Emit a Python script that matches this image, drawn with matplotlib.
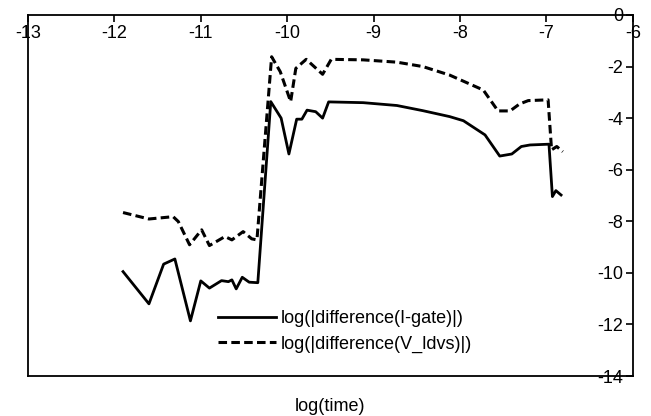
import matplotlib
matplotlib.use("Agg")
import matplotlib.pyplot as plt

plt.rcParams['font.family'] = ['Liberation Sans', 'DejaVu Sans']
plt.rcParams['axes.unicode_minus'] = False

# log(|difference(I-gate)|)
gate_x = [-11.90, -11.60, -11.43, -11.30, -11.12, -11.00, -10.90, -10.76, -10.68, -10.64,
          -10.59, -10.52, -10.44, -10.34, -10.19, -10.07, -9.98, -9.89, -9.83, -9.77,
          -9.67, -9.59, -9.52, -9.12, -8.73, -8.43, -8.12, -7.96, -7.71, -7.54,
          -7.40, -7.29, -7.19, -6.97, -6.93, -6.89, -6.83]
gate_y = [-9.95, -11.20, -9.66, -9.46, -11.86, -10.31, -10.59, -10.30, -10.34, -10.27,
          -10.62, -10.17, -10.36, -10.38, -3.36, -4.00, -5.39, -4.04, -4.04, -3.69,
          -3.75, -4.00, -3.37, -3.40, -3.51, -3.71, -3.94, -4.10, -4.65, -5.47,
          -5.39, -5.10, -5.04, -5.01, -7.04, -6.81, -6.98]

# log(|difference(V_ldvs)|)
ldvs_x = [-11.90, -11.60, -11.32, -11.26, -11.13, -10.99, -10.90, -10.72, -10.64, -10.51,
          -10.41, -10.35, -10.18, -10.08, -9.96, -9.90, -9.78, -9.59, -9.49, -9.12,
          -8.73, -8.43, -8.12, -7.73, -7.56, -7.42, -7.31, -7.21, -6.98, -6.94,
          -6.88, -6.81]
ldvs_y = [-7.66, -7.91, -7.82, -8.01, -8.91, -8.33, -8.94, -8.59, -8.72, -8.40,
          -8.68, -8.72, -1.62, -2.20, -3.36, -2.07, -1.72, -2.30, -1.72, -1.74,
          -1.83, -2.00, -2.33, -2.91, -3.72, -3.72, -3.45, -3.32, -3.29, -5.23,
          -5.10, -5.30]

labels = ["log(|difference(I-gate)|)", "log(|difference(V_ldvs)|)"]

fig = plt.figure(figsize=(6.51, 4.16), dpi=100)
ax = fig.add_axes([0.043, 0.096, 0.929, 0.868])

ax.plot(gate_x, gate_y, color="black", lw=2, label=labels[0])
ax.plot(ldvs_x, ldvs_y, color="black", lw=2.2, linestyle=(0, (2.8, 1.4)), label=labels[1])

ax.set_xlim(-13, -6)
ax.set_ylim(-14, 0)
ax.set_xticks(range(-13, -5))
ax.set_yticks(range(-14, 1, 2))

# axes cross at the top right, like the original spreadsheet chart
ax.spines['bottom'].set_position(('data', 0))
ax.spines['top'].set_position(('data', -14))
ax.spines['left'].set_position(('data', -6))
ax.spines['right'].set_position(('data', -13))
for s in ax.spines.values():
    s.set_linewidth(1.3)

ax.tick_params(labelsize=13, length=5, width=1.2, pad=2)

ax.set_xlabel("log(time)", fontsize=13)
ax.xaxis.set_label_coords(0.5, -0.06)

ax.legend(loc="upper left", bbox_to_anchor=(0.314, 0.182), frameon=False, fontsize=13,
          handlelength=3.2, handletextpad=0.3, borderpad=0, borderaxespad=0, labelspacing=0.45)

plt.savefig("out.png")
